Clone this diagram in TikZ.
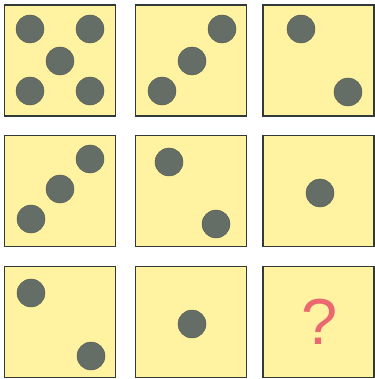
\documentclass[tikz,border=0pt]{standalone}
\usepackage{fontspec}
\setmainfont{Liberation Sans}
\definecolor{cardfill}{RGB}{255,242,160}
\definecolor{cardedge}{RGB}{50,58,55}
\definecolor{dotgray}{RGB}{100,110,102}
\definecolor{qred}{RGB}{236,104,112}
\begin{document}
\begin{tikzpicture}[x=1pt,y=-1pt,
  card/.style={draw=cardedge,line width=1.6pt,fill=cardfill,minimum width=111pt,minimum height=111pt,inner sep=0pt,outer sep=0pt},
  pip/.style={circle,fill=dotgray,draw=dotgray!80!black,line width=0.4pt,minimum size=28pt,inner sep=0pt}]
\useasboundingbox (0,0) rectangle (374,379);
\fill[white] (0,0) rectangle (374,379);
% cards
\node[card] (c1) at (60,60.5) {};
\node[card] (c2) at (191,60.5) {};
\node[card] (c3) at (318.5,60.5) {};
\node[card] (c4) at (60,191) {};
\node[card] (c5) at (191,191) {};
\node[card] (c6) at (318.5,191) {};
\node[card] (c7) at (60,322) {};
\node[card] (c8) at (191,322) {};
\node[card] (c9) at (318.5,322) {};
% card 1
\node[pip] (p11) at (30,29) {};
\node[pip] (p12) at (90,29) {};
\node[pip] (p13) at (60,61) {};
\node[pip] (p14) at (30,91) {};
\node[pip] (p15) at (90,91) {};
% card 2
\node[pip] (p21) at (222,29) {};
\node[pip] (p22) at (192,61) {};
\node[pip] (p23) at (162,91) {};
% card 3
\node[pip] (p31) at (301,29) {};
\node[pip] (p32) at (348,92) {};
% card 4
\node[pip] (p41) at (90,159) {};
\node[pip] (p42) at (60,189) {};
\node[pip] (p43) at (31,219) {};
% card 5
\node[pip] (p51) at (169,162) {};
\node[pip] (p52) at (216,224) {};
% card 6
\node[pip] (p61) at (320,193) {};
% card 7
\node[pip] (p71) at (31,293) {};
\node[pip] (p72) at (91,356) {};
% card 8
\node[pip] (p81) at (192,324) {};
% card 9
\node[text=qred,font=\fontsize{65}{65}\selectfont,inner sep=0pt] (q) at (320,322) {?};
\end{tikzpicture}
\end{document}
